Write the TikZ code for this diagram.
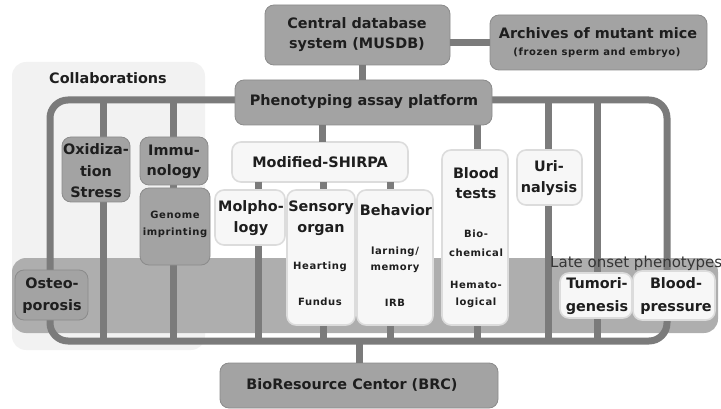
\documentclass[tikz,border=0pt]{standalone}
\usepackage{fontspec}
\setmainfont{DejaVu Sans}
\newfontfamily\smallb{DejaVu Sans}[LetterSpace=6]
\definecolor{boxgray}{HTML}{A3A3A3}
\definecolor{bandgray}{HTML}{AEAEAE}
\definecolor{linegray}{HTML}{7B7B7B}
\definecolor{lightfill}{HTML}{F7F7F7}
\definecolor{lightedge}{HTML}{DCDCDC}
\definecolor{panelgray}{HTML}{F2F2F2}
\definecolor{ink}{HTML}{1E1E1E}
\tikzset{
 gbox/.style={fill=boxgray, draw=boxgray!85!black, line width=0.8pt, rounded corners=9pt, inner sep=0pt, outer sep=0pt},
 lbox/.style={fill=lightfill, draw=lightedge, line width=1.6pt, rounded corners=9pt, inner sep=0pt, outer sep=0pt},
 bus/.style={draw=linegray, line width=7pt},
 lab/.style={font=\bfseries\fontsize{14.4}{#1}\selectfont, text=ink, align=center, inner sep=0pt},
 lab/.default=20,
 slab/.style={font=\smallb\bfseries\fontsize{10}{#1}\selectfont, text=ink, align=center, inner sep=0pt},
 slab/.default=16,
}
\newcommand\bx[6]{\node[#2, minimum width={(#5-#3)*1pt}, minimum height={(#6-#4)*1pt}] (#1) at ({(#3+#5)/2},{(#4+#6)/2}) {};}
\begin{document}
\begin{tikzpicture}[x=1pt,y=-1pt]
\useasboundingbox (0,0) rectangle (721,409);
% background regions
\fill[panelgray, rounded corners=14pt] (12,62) rectangle (205,350);
\fill[bandgray, rounded corners=14pt] (12,258) rectangle (718,333);
% frame and buses
\coordinate (TL) at (50,100);
\coordinate (BR) at (667,341);
\draw[bus, rounded corners=18pt] (TL) rectangle (BR);
\foreach \c/\xx in {v1/103, v2/173, v3/477, v4/548, v5/597}{
  \coordinate (\c) at (\xx,100);
  \draw[bus] (\c) -- (\c |- BR);
}
% boxes
\bx{cdb}{gbox}{265}{5}{450}{65}
\bx{arch}{gbox}{490}{15}{707}{70}
\bx{phen}{gbox}{235}{80}{492}{125}
\bx{shirpa}{lbox}{232}{142}{408}{182}
\foreach \c/\xx in {s1/258, s2/323, s3/390}{
  \coordinate (\c) at (\xx,182);
  \draw[bus] (\c) -- (\c |- BR);
}
\draw[bus] ([xshift=5pt]cdb.south) -- ([xshift=5pt]cdb.south |- phen.north);
\draw[bus] (arch.west) -- (arch.west -| cdb.east);
\draw[bus] ([xshift=2pt]shirpa.north) -- ([xshift=2pt]shirpa.north |- phen.south);
\bx{brc}{gbox}{220}{363}{498}{408}
\draw[bus] (brc.north) -- (brc.north |- BR);
\bx{oxi}{gbox}{62}{137}{130}{202}
\bx{immu}{gbox}{140}{137}{208}{185}
\bx{genome}{gbox}{140}{188}{210}{265}
\bx{osteo}{gbox}{15}{270}{88}{320}
\bx{morph}{lbox}{215}{190}{285}{245}
\bx{sens}{lbox}{287}{190}{355}{325}
\bx{behav}{lbox}{357}{190}{433}{325}
\bx{blood}{lbox}{442}{150}{508}{325}
\bx{urin}{lbox}{517}{150}{582}{205}
\bx{tumor}{lbox}{560}{273}{632}{318}
\bx{bp}{lbox}{633}{271}{715}{320}
% texts
\node[lab] (tcdb) at (357,35) {Central database\\system (MUSDB)};
\node[lab] (tarch) at (598,33) {Archives of mutant mice};
\node[slab] (tarch2) at (597,53) {(frozen sperm and embryo)};
\node[lab] (tphen) at (364,102) {Phenotyping assay platform};
\node[lab] (tcoll) at (108,78) {Collaborations};
\node[lab=21.5] (toxi) at (96,171) {Oxidiza-\\tion\\Stress};
\node[lab] (timmu) at (174,162) {Immu-\\nology};
\node[slab=17] (tgen) at (175,224) {Genome\\imprinting};
\node[lab=22] (tost) at (52,296) {Osteo-\\porosis};
\node[lab] (tshirpa) at (320,162) {Modified-SHIRPA};
\node[lab=21] (tmorph) at (251,218) {Molpho-\\logy};
\node[lab=21] (tsens) at (321,218) {Sensory\\organ};
\node[slab] (thear) at (320,267) {Hearting};
\node[slab] (tfund) at (320,302) {Fundus};
\node[lab] (tbeh) at (396,210) {Behavior};
\node[slab] (tlearn) at (395,260) {larning/\\memory};
\node[slab] (tirb) at (395,303) {IRB};
\node[lab] (tblood) at (476,183) {Blood\\tests};
\node[slab=19] (tbio) at (476,243) {Bio-\\chemical};
\node[slab=17] (themato) at (476,294) {Hemato-\\logical};
\node[lab=21] (turin) at (549,178) {Uri-\\nalysis};
\node[anchor=west, font=\fontsize{15}{17}\selectfont, text=ink!90, inner sep=0pt] (tlate) at (550,263) {Late onset phenotypes};
\node[lab=23] (ttumor) at (597,296) {Tumori-\\genesis};
\node[lab=23] (tbp) at (676,296) {Blood-\\pressure};
\node[lab] (tbrc) at (352,385) {BioResource Centor (BRC)};
\end{tikzpicture}
\end{document}
